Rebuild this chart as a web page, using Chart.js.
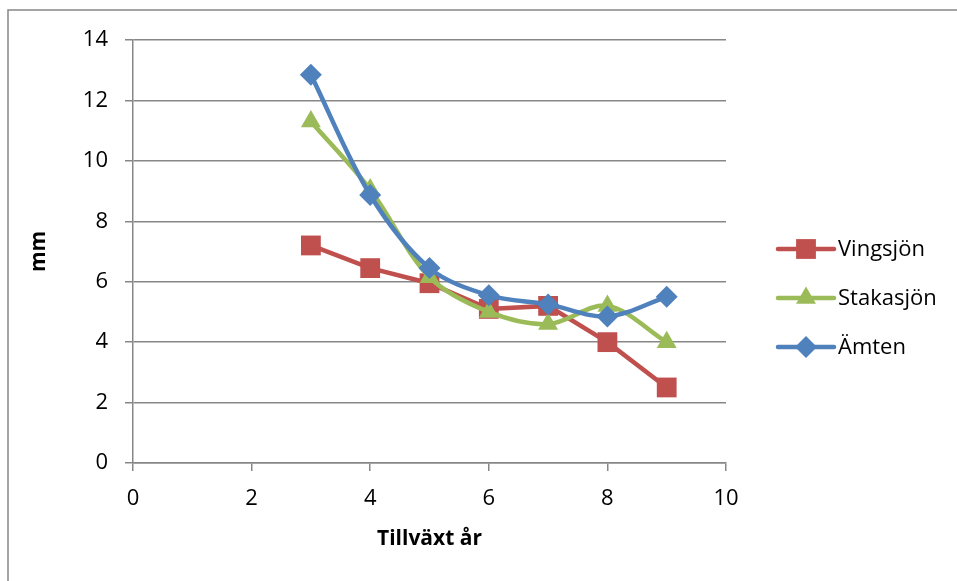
<!DOCTYPE html>
<html>
<head>
<meta charset="utf-8">
<script src="https://cdn.jsdelivr.net/npm/chart.js@4/dist/chart.umd.min.js"></script>
<style>
  html, body { margin: 0; padding: 0; background: #fff; }
  #wrap { width: 957px; height: 581px; position: relative; }
</style>
</head>
<body>
<div id="wrap"><canvas id="c" width="957" height="581"></canvas></div>
<script>
// Tillväxt per år (mm) för tre sjöar
const years = [3, 4, 5, 6, 7, 8, 9];
const vingsjon = [7.2, 6.45, 5.95, 5.1, 5.2, 4.0, 2.5];
const stakasjon = [11.3, 9.05, 6.15, 5.0, 4.6, 5.2, 4.0];
const amten = [12.85, 8.87, 6.45, 5.55, 5.25, 4.85, 5.5];

const xTicks = [0, 2, 4, 6, 8, 10];
const yTicks = [0, 2, 4, 6, 8, 10, 12, 14];

const FONT = "'Open Sans', 'DejaVu Sans', sans-serif";
const GRID = '#878787';

const pts = vals => years.map((x, i) => ({ x: x, y: vals[i] }));

// Outer frame of the chart
const framePlugin = {
  id: 'frame',
  beforeDraw(chart) {
    const ctx = chart.ctx;
    ctx.save();
    ctx.fillStyle = '#fff';
    ctx.fillRect(0, 0, chart.width, chart.height);
    ctx.strokeStyle = '#868686';
    ctx.lineWidth = 1.5;
    ctx.strokeRect(8, 10, chart.width + 20, chart.height + 20);
    ctx.restore();
  }
};

// Legend with line + marker samples, placed right of the plot
const lineLegend = {
  id: 'lineLegend',
  afterDraw(chart) {
    const ctx = chart.ctx;
    const area = chart.chartArea;
    const x0 = area.right + 52, x1 = area.right + 108;
    const yStart = 249, step = 49;
    ctx.save();
    chart.data.datasets.forEach((ds, i) => {
      const y = yStart + i * step;
      ctx.strokeStyle = ds.borderColor;
      ctx.lineWidth = ds.borderWidth;
      ctx.lineCap = 'round';
      ctx.beginPath();
      ctx.moveTo(x0, y);
      ctx.lineTo(x1, y);
      ctx.stroke();
      ctx.fillStyle = ds.pointBackgroundColor;
      ctx.strokeStyle = ds.pointBorderColor;
      Chart.helpers.drawPoint(ctx, {
        pointStyle: ds.pointStyle,
        radius: ds.pointRadius,
        rotation: 0,
        borderWidth: 0
      }, (x0 + x1) / 2, y);
      ctx.fillStyle = '#000';
      ctx.font = "22px " + FONT;
      ctx.textBaseline = 'middle';
      ctx.textAlign = 'left';
      ctx.fillText(ds.label, x1 + 4, y + 1);
    });
    ctx.restore();
  }
};

new Chart(document.getElementById('c'), {
  type: 'line',
  data: {
    datasets: [
      {
        label: 'Vingsjön',
        data: pts(vingsjon),
        borderColor: '#C0504D',
        backgroundColor: '#C0504D',
        pointBackgroundColor: '#C0504D',
        pointBorderColor: '#C0504D',
        borderWidth: 4.5,
        pointStyle: 'rect',
        pointRadius: 14,
        pointBorderWidth: 0,
        tension: 0,
        order: 3
      },
      {
        label: 'Stakasjön',
        data: pts(stakasjon),
        borderColor: '#9BBB59',
        backgroundColor: '#9BBB59',
        pointBackgroundColor: '#9BBB59',
        pointBorderColor: '#9BBB59',
        borderWidth: 4.5,
        pointStyle: 'triangle',
        pointRadius: 11.5,
        pointBorderWidth: 0,
        tension: 0.33,
        order: 2
      },
      {
        label: 'Ämten',
        data: pts(amten),
        borderColor: '#4F81BD',
        backgroundColor: '#4F81BD',
        pointBackgroundColor: '#4F81BD',
        pointBorderColor: '#4F81BD',
        borderWidth: 4.5,
        pointStyle: 'rectRot',
        pointRadius: 11,
        pointBorderWidth: 0,
        tension: 0.33,
        order: 1
      }
    ]
  },
  options: {
    responsive: false,
    animation: false,
    events: [],
    layout: { padding: { top: 40, right: 231, left: 0, bottom: 0 } },
    plugins: {
      legend: { display: false },
      tooltip: { enabled: false }
    },
    scales: {
      x: {
        type: 'linear',
        min: 0,
        max: 10,
        afterFit(scale) { scale.height = 118; },
        afterBuildTicks(scale) { scale.ticks = xTicks.map(v => ({ value: v })); },
        grid: { drawOnChartArea: false, drawTicks: true, tickLength: 8, color: GRID, lineWidth: 1.5 },
        border: { color: GRID, width: 1.5 },
        ticks: { color: '#000', font: { family: FONT, size: 22 }, padding: 15, maxRotation: 0 },
        title: {
          display: true,
          text: 'Tillväxt år',
          color: '#000',
          font: { family: FONT, size: 21, weight: 'bold' },
          padding: { top: 0, bottom: 29 }
        }
      },
      y: {
        min: 0,
        max: 14,
        afterFit(scale) { scale.width = 133; },
        afterBuildTicks(scale) { scale.ticks = yTicks.map(v => ({ value: v })); },
        grid: { drawTicks: true, tickLength: 8, color: GRID, lineWidth: 1.5 },
        border: { color: GRID, width: 1.5 },
        ticks: { color: '#000', font: { family: FONT, size: 22 }, padding: 17 },
        title: {
          display: true,
          text: 'mm',
          color: '#000',
          font: { family: FONT, size: 21, weight: 'bold' },
          padding: { top: 26, bottom: 0 }
        }
      }
    }
  },
  plugins: [framePlugin, lineLegend]
});
</script>
</body>
</html>
